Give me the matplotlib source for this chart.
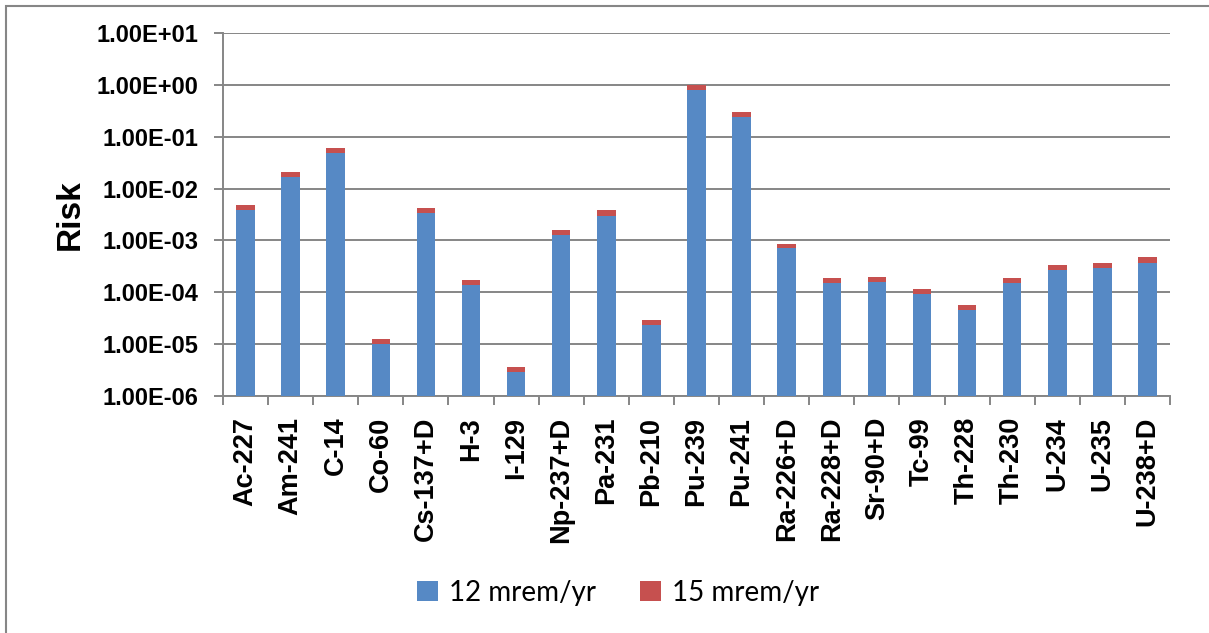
import numpy as np
import matplotlib
matplotlib.use('Agg')
import matplotlib.pyplot as plt
from matplotlib.ticker import FixedLocator, FuncFormatter
from matplotlib.patches import Rectangle

nuclides = ['Ac-227', 'Am-241', 'C-14', 'Co-60', 'Cs-137+D', 'H-3', 'I-129',
	'Np-237+D', 'Pa-231', 'Pb-210', 'Pu-239', 'Pu-241', 'Ra-226+D', 'Ra-228+D',
	'Sr-90+D', 'Tc-99', 'Th-228', 'Th-230', 'U-234', 'U-235', 'U-238+D']

# risk at each dose limit
risk_12 = [3.9e-3, 1.7e-2, 4.8e-2, 1.0e-5, 3.4e-3, 1.4e-4, 2.9e-6,
	1.3e-3, 3.0e-3, 2.3e-5, 0.78, 0.24, 7.0e-4, 1.5e-4,
	1.6e-4, 9.4e-5, 4.5e-5, 1.5e-4, 2.7e-4, 2.9e-4, 3.7e-4]
risk_15 = [4.9e-3, 2.1e-2, 6.0e-2, 1.25e-5, 4.3e-3, 1.75e-4, 3.6e-6,
	1.6e-3, 3.8e-3, 2.9e-5, 0.98, 0.30, 8.7e-4, 1.85e-4,
	2.0e-4, 1.18e-4, 5.6e-5, 1.85e-4, 3.4e-4, 3.6e-4, 4.7e-4]

series_labels = ['12 mrem/yr', '15 mrem/yr']
decades = [1e-6, 1e-5, 1e-4, 1e-3, 1e-2, 1e-1, 1e0, 1e1]

BLUE = '#5689C5'
RED = '#C6504F'
GREY = '#868686'


def main():
	fig = plt.figure(figsize=(12.09, 6.33), dpi=100)
	ax = fig.add_axes([223 / 1209, 1 - 396 / 633, (1170 - 223) / 1209, (396 - 33) / 633])

	x = np.arange(len(nuclides))
	# 15 mrem/yr bar sits behind the 12 mrem/yr one
	b15 = ax.bar(x, risk_15, width=0.41, color=RED, zorder=2)
	b12 = ax.bar(x, risk_12, width=0.41, color=BLUE, zorder=3)

	ax.set_yscale('log')
	ax.set_ylim(1e-6, 1e1)
	ax.set_xlim(-0.5, len(nuclides) - 0.5)

	ax.yaxis.set_major_locator(FixedLocator(decades))
	ax.yaxis.set_minor_locator(FixedLocator([]))
	ax.yaxis.set_major_formatter(FuncFormatter(lambda v, p: '%.2E' % v))
	ax.grid(axis='y', color=GREY, linewidth=1.4, zorder=1)
	ax.set_axisbelow(True)

	ax.set_xticks(x)
	ax.set_xticklabels(nuclides, rotation=90, fontsize=19.5, fontweight='bold',
		family='Liberation Sans', va='top')
	ax.set_xticks(np.arange(len(nuclides) + 1) - 0.5, minor=True)
	ax.tick_params(axis='x', which='major', length=0, pad=15)
	ax.tick_params(axis='x', which='minor', length=6.5, width=1.4, color=GREY, direction='out')
	ax.tick_params(axis='y', which='major', length=6.5, width=1.4, color=GREY, pad=11,
		labelsize=17)
	for lab in ax.get_yticklabels():
		lab.set_fontweight('bold')
		lab.set_family('Liberation Sans')

	for side in ['top', 'right']:
		ax.spines[side].set_visible(False)
	for side in ['left', 'bottom']:
		ax.spines[side].set_color(GREY)
		ax.spines[side].set_linewidth(1.4)

	ax.set_ylabel('Risk', fontsize=24, fontweight='bold', family='Liberation Sans')
	ax.yaxis.set_label_coords(-0.145, 0.5)

	fig.legend([b12, b15], series_labels, loc='center', bbox_to_anchor=(618 / 1209, 1 - 593 / 633),
		ncol=2, frameon=False, prop={'family': 'Lato', 'size': 20},
		handlelength=0.75, handleheight=0.75, handletextpad=0.4, columnspacing=1.6)

	# chart frame
	fig.add_artist(Rectangle((6 / 1209, -0.1), 1.2, 1.1 - 6 / 633, transform=fig.transFigure,
		fill=False, edgecolor=GREY, linewidth=1.5))

	plt.savefig('out.png', dpi=100)


if __name__ == '__main__':
	main()
